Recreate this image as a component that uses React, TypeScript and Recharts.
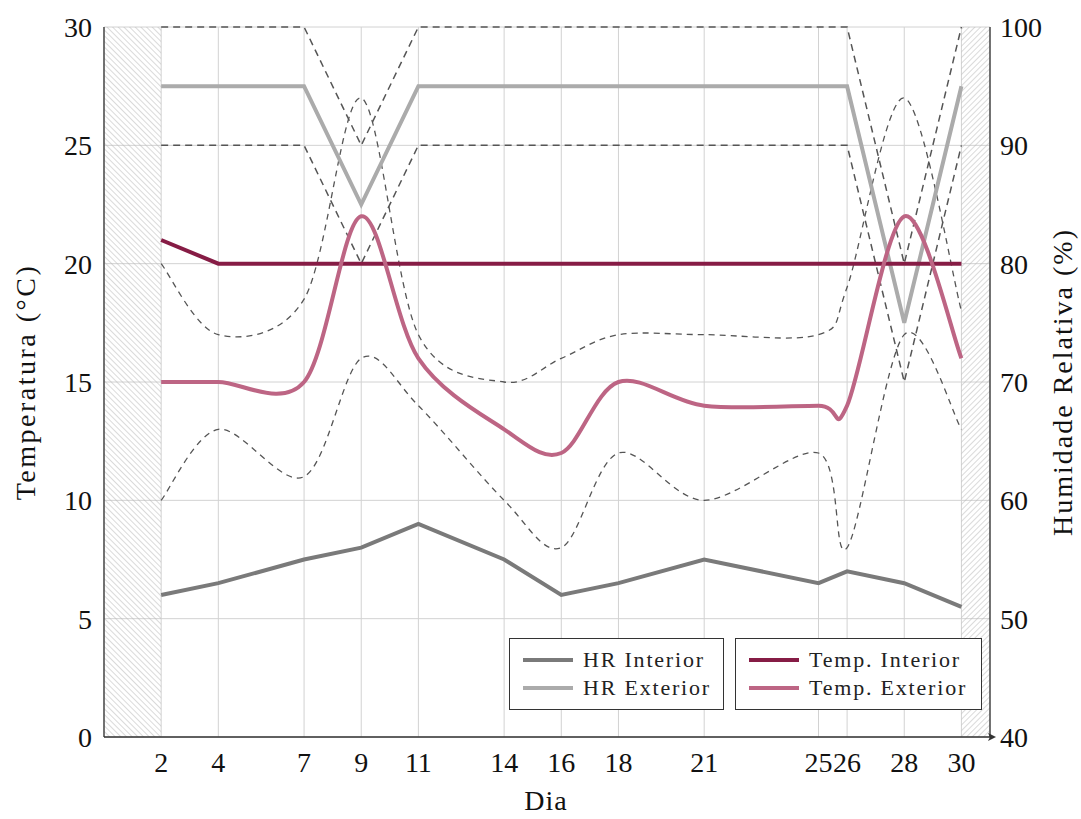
import React from "react"
import {
  ComposedChart,
  Line,
  XAxis,
  YAxis,
  CartesianGrid,
  ReferenceArea,
  Legend,
} from "recharts"

// dias medidos
const days = [2, 4, 7, 9, 11, 14, 16, 18, 21, 25, 26, 28, 30]

// humidade relativa (%)
const hrInterior = [52, 53, 55, 56, 58, 55, 52, 53, 55, 53, 54, 53, 51]
const hrExterior = [95, 95, 95, 85, 95, 95, 95, 95, 95, 95, 95, 75, 95]
const hrExteriorMax = [100, 100, 100, 90, 100, 100, 100, 100, 100, 100, 100, 80, 100]
const hrExteriorMin = [90, 90, 90, 80, 90, 90, 90, 90, 90, 90, 90, 70, 90]

// temperatura (°C)
const tempInterior = [21, 20, 20, 20, 20, 20, 20, 20, 20, 20, 20, 20, 20]
const tempExterior = [15, 15, 15, 22, 16, 13, 12, 15, 14, 14, 14, 22, 16]
const tempExteriorMax = [20, 17, 18.5, 27, 17, 15, 16, 17, 17, 17, 19, 27, 18]
const tempExteriorMin = [10, 13, 11, 16, 14, 10, 8, 12, 10, 12, 8, 17, 13]

const tempTicks = [0, 5, 10, 15, 20, 25, 30]
const hrTicks = [40, 50, 60, 70, 80, 90, 100]
const dayDomain = [0, 31]
const noDataLeft = [0, 2]
const noDataRight = [30, 31]

const FONT = "'Liberation Serif', 'Times New Roman', serif"
const COLORS = {
  hrInt: "#7a7a7a",
  hrExt: "#ababab",
  tInt: "#861c45",
  tExt: "#bd6584",
  dash: "#555555",
  grid: "#d2d2d2",
  axis: "#333333",
}

const data = days.map((d, i) => ({
  dia: d,
  hrInt: hrInterior[i],
  hrExt: hrExterior[i],
  hrExtMax: hrExteriorMax[i],
  hrExtMin: hrExteriorMin[i],
  tInt: tempInterior[i],
  tExt: tempExterior[i],
  tExtMax: tempExteriorMax[i],
  tExtMin: tempExteriorMin[i],
}))

const legendGroups = [
  [
    { name: "HR Interior", color: COLORS.hrInt },
    { name: "HR Exterior", color: COLORS.hrExt },
  ],
  [
    { name: "Temp. Interior", color: COLORS.tInt },
    { name: "Temp. Exterior", color: COLORS.tExt },
  ],
]

// curva suave tipo tikz "smooth" (cardinal)
function smooth(k: number) {
  return (ctx: any) => {
    let xs: number[] = []
    let ys: number[] = []
    return {
      areaStart() {},
      areaEnd() {},
      lineStart() {
        xs = []
        ys = []
      },
      point(x: number, y: number) {
        xs.push(+x)
        ys.push(+y)
      },
      lineEnd() {
        const n = xs.length
        if (!n) return
        ctx.moveTo(xs[0], ys[0])
        for (let i = 0; i < n - 1; i++) {
          const a = Math.max(i - 1, 0)
          const d = Math.min(i + 2, n - 1)
          ctx.bezierCurveTo(
            xs[i] + k * (xs[i + 1] - xs[a]),
            ys[i] + k * (ys[i + 1] - ys[a]),
            xs[i + 1] - k * (xs[d] - xs[i]),
            ys[i + 1] - k * (ys[d] - ys[i]),
            xs[i + 1],
            ys[i + 1]
          )
        }
      },
    }
  }
}

const smoothCurve = smooth(0.16)

const tickStyle = { fontSize: 28, fill: "#111", fontFamily: FONT }

function LegendBoxes() {
  const widths = [215, 247]
  return (
    <div style={{ display: "flex", gap: 11, fontFamily: FONT }}>
      {legendGroups.map((group, gi) => (
        <div
          key={gi}
          style={{
            width: widths[gi],
            height: 72,
            boxSizing: "border-box",
            border: "1px solid #333",
            background: "#fff",
            paddingTop: 7,
          }}
        >
          {group.map((item) => (
            <div
              key={item.name}
              style={{ display: "flex", alignItems: "center", height: 28 }}
            >
              <div
                style={{
                  width: 50,
                  height: 4,
                  marginLeft: 13,
                  marginRight: 10,
                  background: item.color,
                }}
              />
              <span
                style={{
                  fontFamily: FONT,
                  fontSize: 22,
                  letterSpacing: 1.8,
                  color: "#222",
                  whiteSpace: "nowrap",
                }}
              >
                {item.name}
              </span>
            </div>
          ))}
        </div>
      ))}
    </div>
  )
}

function leftTitle({ viewBox }: any) {
  const cy = viewBox.y + viewBox.height / 2
  return (
    <text
      x={25}
      y={cy}
      transform={`rotate(-90, 25, ${cy})`}
      textAnchor="middle"
      dominantBaseline="central"
      fontFamily={FONT}
      fontSize={28}
      letterSpacing={2.5}
      fill="#111"
    >
      Temperatura (°C)
    </text>
  )
}

function rightTitle({ viewBox }: any) {
  const cy = viewBox.y + viewBox.height / 2
  const x = 1062
  return (
    <text
      x={x}
      y={cy}
      transform={`rotate(-90, ${x}, ${cy})`}
      textAnchor="middle"
      dominantBaseline="central"
      fontFamily={FONT}
      fontSize={28}
      letterSpacing={2}
      fill="#111"
    >
      Humidade Relativa (%)
    </text>
  )
}

function bottomTitle({ viewBox }: any) {
  return (
    <text
      x={viewBox.x + viewBox.width / 2 - 1}
      y={810}
      textAnchor="middle"
      fontFamily={FONT}
      fontSize={28}
      letterSpacing={1}
      fill="#111"
    >
      Dia
    </text>
  )
}

export default function App() {
  return (
    <div style={{ position: "absolute", left: 0, top: 0, background: "#fff" }}>
      <svg width={0} height={0} style={{ position: "absolute" }}>
        <defs>
          <pattern
            id="hatchL"
            width={4}
            height={4}
            patternUnits="userSpaceOnUse"
            patternTransform="rotate(-45)"
          >
            <line x1={0} y1={0} x2={0} y2={4} stroke="#b5b5b5" strokeWidth={1} />
          </pattern>
          <pattern
            id="hatchR"
            width={4}
            height={4}
            patternUnits="userSpaceOnUse"
            patternTransform="rotate(45)"
          >
            <line x1={0} y1={0} x2={0} y2={4} stroke="#b5b5b5" strokeWidth={1} />
          </pattern>
          <marker
            id="axisArrow"
            markerWidth={10}
            markerHeight={8}
            refX={2}
            refY={4}
            orient="auto"
            markerUnits="userSpaceOnUse"
          >
            <path d="M0,0 L8,4 L0,8 L2,4 z" fill="#333" />
          </marker>
        </defs>
      </svg>
      <ComposedChart
        width={1081}
        height={819}
        data={data}
        margin={{ top: 27, right: 0, bottom: 0, left: 0 }}
      >
        <CartesianGrid yAxisId="t" stroke={COLORS.grid} strokeWidth={1} />
        <ReferenceArea
          yAxisId="t"
          x1={noDataLeft[0]}
          x2={noDataLeft[1]}
          y1={tempTicks[0]}
          y2={tempTicks[tempTicks.length - 1]}
          fill="url(#hatchL)"
          fillOpacity={1}
          stroke="none"
          ifOverflow="visible"
        />
        <ReferenceArea
          yAxisId="t"
          x1={noDataRight[0]}
          x2={noDataRight[1]}
          y1={tempTicks[0]}
          y2={tempTicks[tempTicks.length - 1]}
          fill="url(#hatchR)"
          fillOpacity={1}
          stroke="none"
          ifOverflow="visible"
        />
        <XAxis
          dataKey="dia"
          type="number"
          domain={dayDomain}
          ticks={days}
          interval={0}
          allowDataOverflow
          height={82}
          tickLine={false}
          tickSize={0}
          tickMargin={15}
          tick={tickStyle}
          axisLine={{ stroke: COLORS.axis, strokeWidth: 1.3, markerEnd: "url(#axisArrow)" }}
          label={{ content: bottomTitle }}
        />
        <YAxis
          yAxisId="t"
          domain={[tempTicks[0], tempTicks[tempTicks.length - 1]]}
          ticks={tempTicks}
          interval={0}
          width={104}
          tickLine={false}
          tickSize={0}
          tickMargin={12}
          tick={tickStyle}
          axisLine={{ stroke: COLORS.axis, strokeWidth: 1.3 }}
          label={{ content: leftTitle }}
        />
        <YAxis
          yAxisId="h"
          orientation="right"
          domain={[hrTicks[0], hrTicks[hrTicks.length - 1]]}
          ticks={hrTicks}
          interval={0}
          width={91}
          tickLine={false}
          tickSize={0}
          tickMargin={10}
          tick={tickStyle}
          axisLine={{ stroke: COLORS.axis, strokeWidth: 1.3 }}
          label={{ content: rightTitle }}
        />

        {/* limites (tracejado) */}
        <Line yAxisId="h" dataKey="hrExtMax" type="linear" stroke={COLORS.dash} strokeWidth={1.5} strokeDasharray="7 5" dot={false} legendType="none" isAnimationActive={false} />
        <Line yAxisId="h" dataKey="hrExtMin" type="linear" stroke={COLORS.dash} strokeWidth={1.5} strokeDasharray="7 5" dot={false} legendType="none" isAnimationActive={false} />
        <Line yAxisId="t" dataKey="tExtMax" type={smoothCurve as any} stroke={COLORS.dash} strokeWidth={1.3} strokeDasharray="6 5" dot={false} legendType="none" isAnimationActive={false} />
        <Line yAxisId="t" dataKey="tExtMin" type={smoothCurve as any} stroke={COLORS.dash} strokeWidth={1.3} strokeDasharray="6 5" dot={false} legendType="none" isAnimationActive={false} />

        <Line yAxisId="h" dataKey="hrInt" name="HR Interior" type="linear" stroke={COLORS.hrInt} strokeWidth={4} dot={false} isAnimationActive={false} />
        <Line yAxisId="h" dataKey="hrExt" name="HR Exterior" type="linear" stroke={COLORS.hrExt} strokeWidth={4} dot={false} isAnimationActive={false} />
        <Line yAxisId="t" dataKey="tInt" name="Temp. Interior" type="linear" stroke={COLORS.tInt} strokeWidth={4} dot={false} isAnimationActive={false} />
        <Line yAxisId="t" dataKey="tExt" name="Temp. Exterior" type={smoothCurve as any} stroke={COLORS.tExt} strokeWidth={4} dot={false} isAnimationActive={false} />

        <Legend
          layout="horizontal"
          align="center"
          verticalAlign="middle"
          content={() => <LegendBoxes />}
          wrapperStyle={{ left: 509, top: 638, width: 473, height: 72 }}
        />
      </ComposedChart>
    </div>
  )
}
